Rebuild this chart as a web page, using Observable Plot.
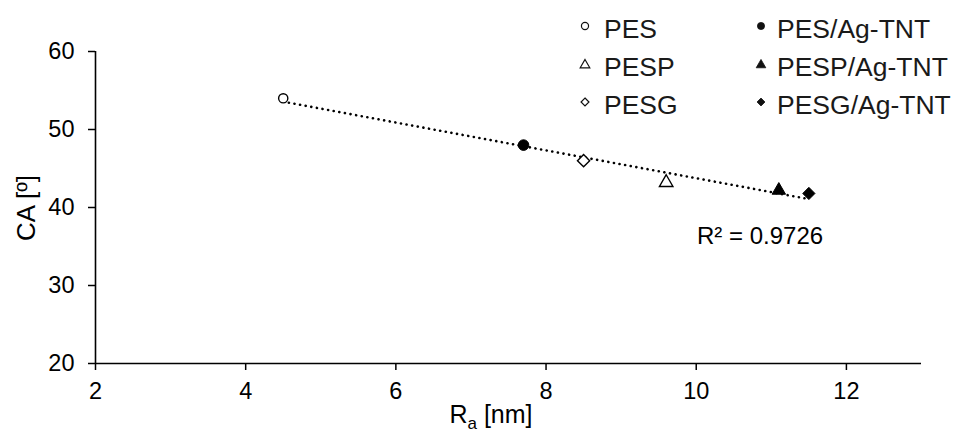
<!DOCTYPE html>
<html><head><meta charset="utf-8">
<script src="https://cdn.jsdelivr.net/npm/d3@7"></script>
<script src="https://cdn.jsdelivr.net/npm/@observablehq/plot@0.6"></script>
<style>
html,body{margin:0;padding:0;background:#fff;}
#wrap{position:relative;width:973px;height:434px;font-family:"Liberation Sans",Arial,sans-serif;}
#wrap svg{position:absolute;left:0;top:0;}
</style></head><body><div id="wrap"></div>
<script>
// ---- data ----
const samples = ["PES", "PES/Ag-TNT", "PESG", "PESP", "PESP/Ag-TNT", "PESG/Ag-TNT"];
const ra = [4.5, 7.7, 8.5, 9.6, 11.1, 11.5];     // R_a [nm]
const ca = [54, 48, 46, 43.2, 42.2, 41.8];       // CA [º]
const shapes = ["circle", "circle", "diamond2", "triangle", "triangle", "diamond2"];
const filled = [false, true, false, false, true, true];
const xTicks = [2, 4, 6, 8, 10, 12];
const yTicks = [20, 30, 40, 50, 60];
const legendCol1 = ["PES", "PESP", "PESG"];
const legendCol2 = ["PES/Ag-TNT", "PESP/Ag-TNT", "PESG/Ag-TNT"];
const r2Label = "R² = 0.9726";
const yTitle = "CA [º]";

const rows = samples.map((s, i) => ({sample: s, ra: ra[i], ca: ca[i], shape: shapes[i], filled: filled[i]}));
const radius = {circle: 5.3, diamond2: 5.5, triangle: 5};

const dotMarks = rows.map(d => Plot.dot([d], {
  x: "ra", y: "ca", symbol: d.shape,
  r: d.shape === "circle" && !d.filled ? 4.6 : radius[d.shape],
  fill: d.filled ? "black" : "white",
  stroke: "black", strokeWidth: d.filled ? 1 : 1.4
}));

const chart = Plot.plot({
  width: 973, height: 434,
  marginLeft: 95, marginRight: 52, marginTop: 51, marginBottom: 71,
  style: {fontFamily: '"Liberation Sans", Arial, sans-serif', background: "white", color: "black"},
  x: {domain: [2, 13]},
  y: {domain: [20, 60]},
  marks: [
    Plot.axisX(xTicks, {tickSize: 7, tickPadding: 12, fontSize: 23.5, strokeWidth: 1.5, label: null}),
    Plot.axisY(yTicks, {tickSize: 7, tickPadding: 14, fontSize: 23.5, strokeWidth: 1.5, label: null}),
    Plot.ruleX([2], {strokeWidth: 1.6}),
    Plot.ruleY([20], {strokeWidth: 1.6}),
    Plot.linearRegressionY(rows, {x: "ra", y: "ca", ci: 0, stroke: "black", strokeWidth: 2.6, strokeLinecap: "round", strokeDasharray: "0.1,5.6"}),
    ...dotMarks
  ]
});
const wrap = document.getElementById("wrap");
wrap.appendChild(chart);

// ---- overlay: titles, annotation, legend ----
const ov = d3.select(wrap).append("svg").attr("width", 973).attr("height", 434)
  .style("font-family", '"Liberation Sans", Arial, sans-serif').attr("fill", "black");

ov.append("text").attr("transform", "translate(35,208) rotate(-90)")
  .attr("text-anchor", "middle").attr("font-size", 26).text(yTitle);

const xt = ov.append("text").attr("x", 491).attr("y", 423).attr("text-anchor", "middle").attr("font-size", 25);
xt.append("tspan").text("R");
xt.append("tspan").attr("font-size", 17).attr("dy", 6).text("a");
xt.append("tspan").attr("dy", -6).text(" [nm]");

ov.append("text").attr("x", 697).attr("y", 244).attr("font-size", 24).text(r2Label);

function legendCol(labels, mx, tx, isFilled) {
  const shp = [d3.symbolCircle, d3.symbolTriangle, d3.symbolDiamond2];
  const sz = [40, 40, 40];
  labels.forEach((lab, i) => {
    const cy = 26 + i * 38;
    ov.append("path").attr("d", d3.symbol(shp[i], sz[i])())
      .attr("transform", `translate(${mx},${cy + (i === 1 ? 1 : 0)})`)
      .attr("fill", isFilled ? "#111" : "white").attr("stroke", "#111").attr("stroke-width", isFilled ? 0.8 : 1.2);
    ov.append("text").attr("x", tx).attr("y", cy + 12).attr("font-size", 26.5).attr("fill", "#1a1a1a").text(lab);
  });
}
legendCol(legendCol1, 585, 604, false);
legendCol(legendCol2, 761, 777, true);
</script></body></html>
